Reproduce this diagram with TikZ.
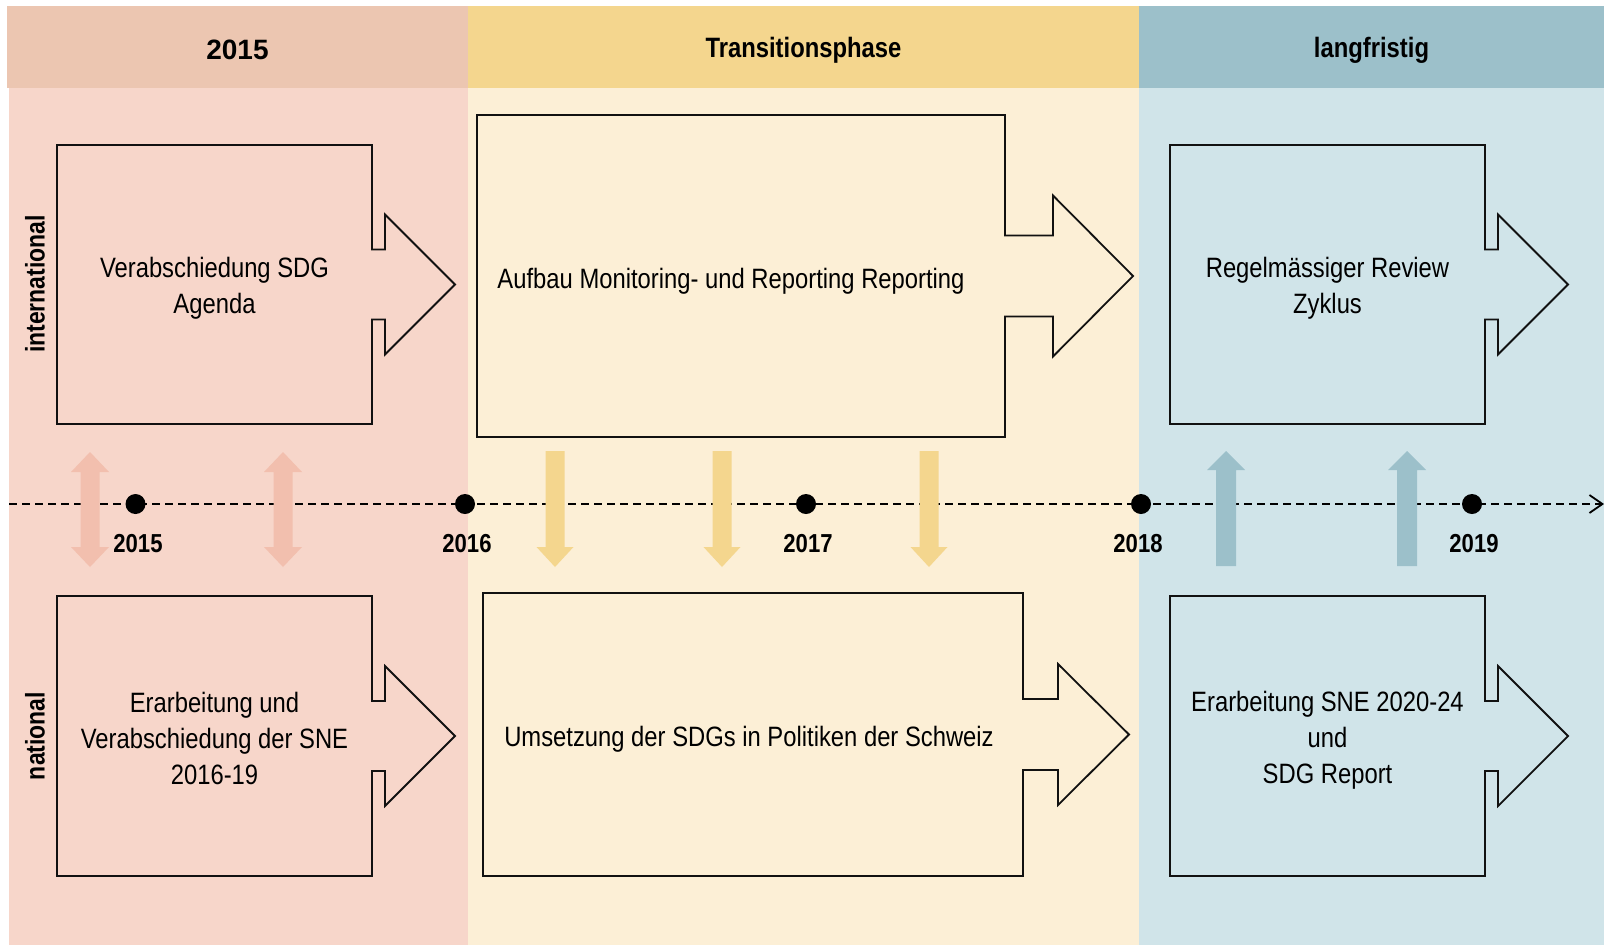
\documentclass[tikz,border=0pt]{standalone}
\usepackage{fontspec}
\setmainfont[FakeStretch=0.85]{Liberation Sans}
\newfontfamily\widefont{Liberation Sans}
\usetikzlibrary{arrows.meta}
\definecolor{hdA}{HTML}{ECC6B1}
\definecolor{bgA}{HTML}{F7D6CA}
\definecolor{arA}{HTML}{F2BFAE}
\definecolor{hdB}{HTML}{F4D68E}
\definecolor{bgB}{HTML}{FCEFD6}
\definecolor{arB}{HTML}{F4D68E}
\definecolor{hdC}{HTML}{9CC0CA}
\definecolor{bgC}{HTML}{D0E4E9}
\definecolor{arC}{HTML}{9CC0CA}
\definecolor{ink}{HTML}{111111}
\newcommand\abox[8]{% left top right bottom shafthalf headhalf ext headlen
  \pgfmathsetmacro\cy{(#2+#4)/2}
  \draw[boxline] (#1,#2) -- (#3,#2) -- (#3,{\cy-#5}) -- ({#3+#7},{\cy-#5}) -- ({#3+#7},{\cy-#6})
    -- ({#3+#7+#8},\cy) -- ({#3+#7},{\cy+#6}) -- ({#3+#7},{\cy+#5}) -- (#3,{\cy+#5}) -- (#3,#4) -- (#1,#4) -- cycle;}
\newcommand\dblarr[1]{%
  \fill[arA] ({#1-9.5},472) -- ({#1-19},472) -- (#1,452) -- ({#1+19},472) -- ({#1+9.5},472)
    -- ({#1+9.5},547) -- ({#1+19},547) -- (#1,567) -- ({#1-19},547) -- ({#1-9.5},547) -- cycle;}
\newcommand\downarr[1]{%
  \fill[arB] ({#1-9.5},451) -- ({#1+9.5},451) -- ({#1+9.5},547) -- ({#1+18.5},547) -- (#1,567)
    -- ({#1-18.5},547) -- ({#1-9.5},547) -- cycle;}
\newcommand\uparr[1]{%
  \fill[arC] ({#1-10},566) -- ({#1-10},470) -- ({#1-19},470) -- (#1,451) -- ({#1+19},470)
    -- ({#1+10},470) -- ({#1+10},566) -- cycle;}
\begin{document}
\begin{tikzpicture}[x=1pt,y=-1pt,
  boxline/.style={draw=ink,line width=1.8pt,line join=miter},
  hdtext/.style={font=\fontsize{28}{34}\selectfont\bfseries},
  rowlabel/.style={font=\fontsize{27}{32}\selectfont\bfseries,rotate=90},
  boxtext/.style={font=\fontsize{28}{36}\selectfont,align=center},
  yeartext/.style={font=\fontsize{26}{30}\selectfont\bfseries},
  dot/.style={circle,fill=black,inner sep=0pt,minimum size=20pt},
  timeline/.style={line width=2pt,dash pattern=on 8pt off 5pt,-{Straight Barb[length=13pt,width=18pt,line width=1.8pt]}}]
\useasboundingbox (0,0) rectangle (1610,946);
% columns
\fill[bgA] (9,88) rectangle (468,945);
\fill[bgB] (468,88) rectangle (1139,945);
\fill[bgC] (1139,88) rectangle (1604,945);
\fill[hdA] (7,6) rectangle (468,88);
\fill[hdB] (468,6) rectangle (1139,88);
\fill[hdC] (1139,6) rectangle (1604,88);
\node[hdtext,font=\fontsize{28}{34}\selectfont\widefont\bfseries] (h1) at (237.5,50) {2015};
\node[hdtext] (h2) at (803.5,50) {Transitionsphase};
\node[hdtext] (h3) at (1371.5,50) {langfristig};
% row labels
\node[rowlabel] (rint) at (35,284) {international};
\node[rowlabel] (rnat) at (35,736) {national};
% arrow boxes
\abox{57}{145}{372}{424}{35}{70}{13}{70}
\abox{477}{115}{1005}{437}{40.5}{80.5}{48}{80}
\abox{1170}{145}{1485}{424}{35}{70}{13}{70}
\abox{57}{596}{372}{876}{35}{70}{13}{70}
\abox{483}{593}{1023}{876}{35.5}{70.5}{35}{71}
\abox{1170}{596}{1485}{876}{35}{70}{13}{70}
\node[boxtext] (tA) at (214.5,288) {Verabschiedung SDG\\Agenda};
\node[boxtext] (tB) at (731,281) {Aufbau Monitoring- und Reporting Reporting};
\node[boxtext] (tC) at (1327.5,288) {Regelmässiger Review\\Zyklus};
\node[boxtext] (tD) at (214.5,738) {Erarbeitung und\\Verabschiedung der SNE\\2016-19};
\node[boxtext] (tE) at (749,739) {Umsetzung der SDGs in Politiken der Schweiz};
\node[boxtext] (tF) at (1327.5,740) {Erarbeitung SNE 2020-24\\und\\SDG Report};
% timeline
\coordinate (ts) at (9,504);
\coordinate (te) at (1604,504);
\draw[timeline] (ts) -- (te);
% vertical arrows
\dblarr{90}
\dblarr{283}
\downarr{555}
\downarr{722}
\downarr{929}
\uparr{1226}
\uparr{1407}
% dots and years
\node[dot] (d1) at (135.5,504) {};
\node[dot] (d2) at (465,504) {};
\node[dot] (d3) at (806,504) {};
\node[dot] (d4) at (1141,504) {};
\node[dot] (d5) at (1472,504) {};
\node[yeartext] (y1) at (138,544) {2015};
\node[yeartext] (y2) at (467,544) {2016};
\node[yeartext] (y3) at (808,544) {2017};
\node[yeartext] (y4) at (1138,544) {2018};
\node[yeartext] (y5) at (1474,544) {2019};
\end{tikzpicture}
\end{document}
